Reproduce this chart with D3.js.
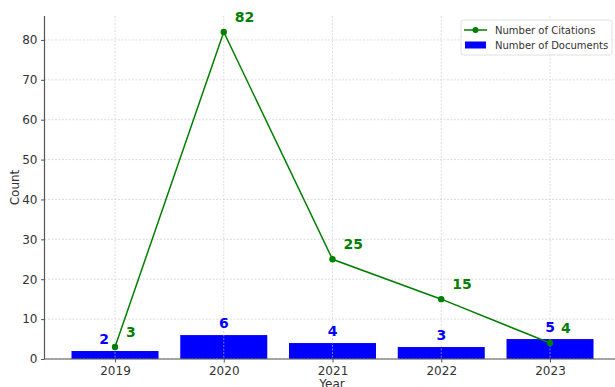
<!DOCTYPE html>
<html><head><meta charset="utf-8">
<script src="https://cdn.jsdelivr.net/npm/d3@7"></script>
<style>body{margin:0;background:#fff;} svg{display:block;font-family:"DejaVu Sans",sans-serif;}</style>
</head><body>
<svg id="c" width="615" height="387"></svg>
<script>
const years = ["2019","2020","2021","2022","2023"];
const documents = [2,6,4,3,5];
const citations = [3,82,25,15,4];
const yTicks = [0,10,20,30,40,50,60,70,80];

(function(){
const svg = d3.select("#c");
const W = 615;
const mLeft = 44.5, mBottom = 359, mTop = 16;
const step = 108.75;
const x0 = 115;
const x = d3.scaleLinear().domain([-0.64, 4.64]).range([x0 - 0.64*step, x0 + 4.64*step]);
const y = d3.scaleLinear().domain([0, 86]).range([mBottom, mTop]);
const bw = 0.8*step;

svg.append("g").selectAll("rect").data(documents).join("rect")
  .attr("x",(d,i)=>x(i)-bw/2).attr("width",bw)
  .attr("y",d=>y(d)).attr("height",d=>y(0)-y(d))
  .attr("fill","#0000ff");

const grid = svg.append("g").attr("stroke","#c8c8c8").attr("stroke-width",0.6).attr("stroke-dasharray","2,1.5");
yTicks.forEach(t=>grid.append("line").attr("x1",mLeft).attr("x2",W).attr("y1",y(t)).attr("y2",y(t)));
years.forEach((t,i)=>grid.append("line").attr("x1",x(i)).attr("x2",x(i)).attr("y1",mTop).attr("y2",mBottom));

const yAxis = d3.axisLeft(y).tickValues(yTicks).tickSize(3.5).tickPadding(3.5);
const gy = svg.append("g").attr("transform",`translate(${mLeft},0)`).call(yAxis);
gy.select(".domain").attr("d",`M0,${mTop}V${mBottom}`).attr("stroke","#555").attr("stroke-width",1.2);
gy.selectAll(".tick line").attr("stroke","#555");
gy.selectAll(".tick text").attr("font-size",12).attr("fill","#333").attr("font-family","DejaVu Sans");

const xAxis = d3.axisBottom(x).tickValues(d3.range(years.length)).tickFormat(i=>years[i]).tickSize(3.5).tickPadding(3.5);
const gx = svg.append("g").attr("transform",`translate(0,${mBottom})`).call(xAxis);
gx.select(".domain").attr("d",`M${mLeft},0H${W}`).attr("stroke","#555").attr("stroke-width",1.2);
gx.selectAll(".tick line").attr("stroke","#555");
gx.selectAll(".tick text").attr("font-size",12).attr("fill","#333").attr("font-family","DejaVu Sans");

svg.append("text").attr("x",332).attr("y",388).attr("text-anchor","middle").attr("font-size",12).attr("fill","#333").text("Year");
svg.append("text").attr("transform",`translate(19,${(mTop+mBottom)/2}) rotate(-90)`).attr("text-anchor","middle").attr("font-size",12).attr("fill","#333").text("Count");

const line = d3.line().x((d,i)=>x(i)).y(d=>y(d));
svg.append("path").datum(citations).attr("d",line).attr("fill","none").attr("stroke","#008000").attr("stroke-width",1.5);
svg.append("g").selectAll("circle").data(citations).join("circle")
  .attr("cx",(d,i)=>x(i)).attr("cy",d=>y(d)).attr("r",3.2).attr("fill","#008000");

svg.append("g").selectAll("text").data(documents).join("text")
  .attr("x",(d,i)=>x(i) + (i===0 ? -11 : 0)).attr("y",d=>y(d)-7)
  .attr("text-anchor","middle").attr("font-size",14).attr("font-weight","bold").attr("fill","#0000ff")
  .text(d=>d);
svg.append("g").selectAll("text").data(citations).join("text")
  .attr("x",(d,i)=>x(i)+11).attr("y",d=>y(d)-10)
  .attr("font-size",14).attr("font-weight","bold").attr("fill","#008000")
  .text(d=>d);

const lg = svg.append("g").attr("transform","translate(461,20)");
lg.append("rect").attr("width",151).attr("height",35).attr("rx",2.5).attr("fill","#fff").attr("fill-opacity",0.85).attr("stroke","#d8d8d8").attr("stroke-width",0.8);
lg.append("line").attr("x1",3).attr("x2",26).attr("y1",10).attr("y2",10).attr("stroke","#008000").attr("stroke-width",1.5);
lg.append("circle").attr("cx",14.5).attr("cy",10).attr("r",3).attr("fill","#008000");
lg.append("rect").attr("x",4).attr("y",21.5).attr("width",21).attr("height",7).attr("fill","#0000ff");
lg.append("text").attr("x",34).attr("y",13.5).attr("font-size",10).attr("fill","#333").text("Number of Citations");
lg.append("text").attr("x",34).attr("y",28.5).attr("font-size",10).attr("fill","#333").text("Number of Documents");
})();
</script>
</body></html>
